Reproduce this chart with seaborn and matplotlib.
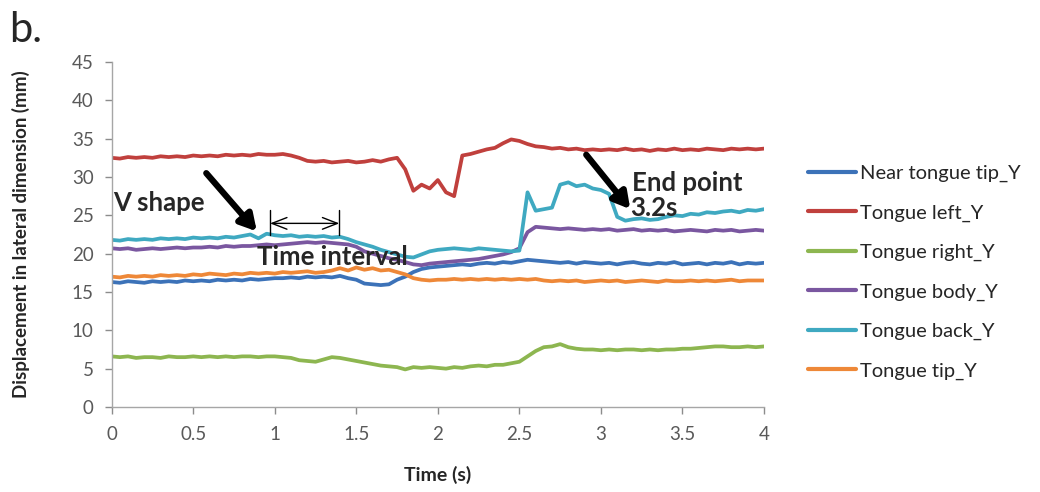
import numpy as np
import pandas as pd
import matplotlib
matplotlib.use("Agg")
import matplotlib.pyplot as plt
import seaborn as sns

# ---------------- data (0.05 s steps) ----------------
time_s = [round(i * 0.05, 2) for i in range(81)]

near_tongue_tip_y = [
    16.3, 16.2, 16.4, 16.3, 16.2, 16.4, 16.3, 16.4, 16.3, 16.5, 16.4,
    16.5, 16.4, 16.6, 16.5, 16.6, 16.5, 16.7, 16.6, 16.7, 16.8,
    16.8, 16.9, 16.8, 17.0, 16.9, 17.0, 16.9, 17.1, 16.8, 16.6,
    16.1, 16.0, 15.9, 16.0, 16.6, 17.0, 17.6, 18.0, 18.2, 18.3,
    18.4, 18.5, 18.6, 18.5, 18.7, 18.8, 18.7, 18.9, 18.8, 19.0,
    19.2, 19.1, 19.0, 18.9, 18.8, 18.9, 18.7, 18.9, 18.8, 18.7,
    18.8, 18.6, 18.8, 18.9, 18.7, 18.6, 18.8, 18.7, 18.9, 18.6,
    18.7, 18.8, 18.6, 18.8, 18.7, 18.9, 18.6, 18.8, 18.7, 18.8,
]
tongue_left_y = [
    32.5, 32.4, 32.6, 32.5, 32.6, 32.5, 32.7, 32.6, 32.7, 32.6, 32.8,
    32.7, 32.8, 32.7, 32.9, 32.8, 32.9, 32.8, 33.0, 32.9, 32.9,
    33.0, 32.8, 32.5, 32.1, 32.0, 32.1, 31.9, 32.0, 32.1, 31.9,
    32.0, 32.2, 32.0, 32.3, 32.5, 31.0, 28.2, 29.0, 28.5, 29.6,
    28.0, 27.5, 32.8, 33.0, 33.3, 33.6, 33.8, 34.4, 34.9, 34.7,
    34.3, 34.0, 33.9, 33.7, 33.8, 33.6, 33.7, 33.5, 33.6, 33.5,
    33.6, 33.5, 33.7, 33.5, 33.6, 33.4, 33.6, 33.5, 33.7, 33.5,
    33.6, 33.5, 33.7, 33.6, 33.5, 33.7, 33.6, 33.7, 33.6, 33.7,
]
tongue_right_y = [
    6.6, 6.5, 6.6, 6.4, 6.5, 6.5, 6.4, 6.6, 6.5, 6.5, 6.6,
    6.5, 6.6, 6.5, 6.6, 6.5, 6.6, 6.6, 6.5, 6.6, 6.6,
    6.5, 6.4, 6.1, 6.0, 5.9, 6.2, 6.5, 6.4, 6.2, 6.0,
    5.8, 5.6, 5.4, 5.3, 5.2, 4.9, 5.2, 5.1, 5.2, 5.1,
    5.0, 5.2, 5.1, 5.3, 5.4, 5.3, 5.5, 5.5, 5.7, 5.9,
    6.6, 7.3, 7.8, 7.9, 8.2, 7.8, 7.6, 7.5, 7.5, 7.4,
    7.5, 7.4, 7.5, 7.5, 7.4, 7.5, 7.4, 7.5, 7.5, 7.6,
    7.6, 7.7, 7.8, 7.9, 7.9, 7.8, 7.8, 7.9, 7.8, 7.9,
]
tongue_body_y = [
    20.7, 20.6, 20.7, 20.5, 20.6, 20.7, 20.6, 20.7, 20.8, 20.7, 20.8,
    20.8, 20.9, 20.8, 21.0, 20.9, 21.0, 21.0, 21.1, 21.2, 21.1,
    21.2, 21.3, 21.4, 21.5, 21.4, 21.5, 21.4, 21.3, 21.2, 20.9,
    20.3, 20.0, 19.7, 19.4, 19.2, 18.9, 18.6, 18.5, 18.7, 18.8,
    18.9, 19.0, 19.1, 19.2, 19.3, 19.5, 19.7, 19.9, 20.2, 20.7,
    22.8, 23.5, 23.4, 23.3, 23.2, 23.3, 23.2, 23.1, 23.2, 23.1,
    23.2, 23.0, 23.1, 23.2, 23.0, 23.1, 23.0, 23.1, 22.9, 23.0,
    23.1, 23.0, 22.9, 23.1, 23.0, 23.1, 22.9, 23.0, 23.1, 23.0,
]
tongue_back_y = [
    21.8, 21.7, 21.9, 21.8, 21.9, 21.8, 22.0, 21.9, 22.0, 21.9, 22.1,
    22.0, 22.1, 22.0, 22.2, 22.1, 22.3, 22.5, 22.0, 22.6, 22.4,
    22.3, 22.4, 22.2, 22.3, 22.2, 22.3, 22.1, 22.2, 21.9, 21.5,
    21.2, 20.9, 20.5, 20.2, 19.9, 19.6, 19.5, 19.9, 20.3, 20.5,
    20.6, 20.7, 20.6, 20.5, 20.7, 20.6, 20.5, 20.4, 20.3, 20.4,
    28.0, 25.6, 25.8, 26.0, 29.0, 29.3, 28.8, 29.0, 28.5, 28.3,
    27.8, 24.8, 24.3, 24.5, 24.6, 24.4, 24.5, 24.8, 25.0, 24.9,
    25.2, 25.1, 25.4, 25.3, 25.5, 25.6, 25.4, 25.7, 25.6, 25.8,
]
tongue_tip_y = [
    17.0, 16.9, 17.1, 17.0, 17.1, 17.0, 17.2, 17.1, 17.2, 17.1, 17.3,
    17.2, 17.4, 17.3, 17.2, 17.4, 17.3, 17.5, 17.4, 17.5, 17.4,
    17.6, 17.5, 17.6, 17.7, 17.5, 17.6, 17.8, 18.1, 17.8, 18.2,
    17.9, 18.1, 17.8, 17.9, 17.6, 17.3, 16.8, 16.6, 16.5, 16.6,
    16.6, 16.7, 16.6, 16.7, 16.6, 16.7, 16.6, 16.7, 16.6, 16.7,
    16.6, 16.7, 16.5, 16.4, 16.5, 16.4, 16.5, 16.3, 16.4, 16.5,
    16.4, 16.5, 16.3, 16.4, 16.5, 16.4, 16.3, 16.5, 16.4, 16.4,
    16.5, 16.4, 16.5, 16.4, 16.5, 16.6, 16.4, 16.5, 16.5, 16.5,
]

series_names = ["Near tongue tip_Y", "Tongue left_Y", "Tongue right_Y",
                "Tongue body_Y", "Tongue back_Y", "Tongue tip_Y"]
series_values = [near_tongue_tip_y, tongue_left_y, tongue_right_y,
                 tongue_body_y, tongue_back_y, tongue_tip_y]
series_colors = ["#3C72B8", "#C0403D", "#8DB650", "#7A57A0", "#3FA9C1", "#EE8838"]

x_ticks = [0, 0.5, 1, 1.5, 2, 2.5, 3, 3.5, 4]
x_tick_labels = ["0", "0.5", "1", "1.5", "2", "2.5", "3", "3.5", "4"]
y_ticks = [0, 5, 10, 15, 20, 25, 30, 35, 40, 45]

# ---------------- build long-form table ----------------
frames = []
for name, vals in zip(series_names, series_values):
    frames.append(pd.DataFrame({"Time (s)": time_s, "value": vals, "series": name}))
df = pd.concat(frames, ignore_index=True)

sns.set_theme(style="white")
plt.rcParams["font.family"] = ["Lato", "DejaVu Sans"]

fig = plt.figure(figsize=(10.4, 4.92), dpi=100)
ax = fig.add_axes([0.1074, 0.1728, 0.6272, 0.7012])

sns.lineplot(data=df, x="Time (s)", y="value", hue="series",
             hue_order=series_names, palette=dict(zip(series_names, series_colors)),
             linewidth=2.7, ax=ax, legend=True, sort=False)

ax.set_xlim(0, 4)
ax.set_ylim(0, 45)
ax.set_xticks(x_ticks)
ax.set_xticklabels(x_tick_labels)
ax.set_yticks(y_ticks)
ax.tick_params(axis="both", labelsize=13.5, colors="#8C8C8C", labelcolor="#595959",
               length=5, width=1, direction="out", bottom=True, left=True)
ax.tick_params(axis="y", pad=8)
ax.tick_params(axis="x", pad=9)
for side in ["top", "right"]:
    ax.spines[side].set_visible(False)
for side in ["left", "bottom"]:
    ax.spines[side].set_color("#A6A6A6")
    ax.spines[side].set_linewidth(1)

ax.set_xlabel("Time (s)", fontsize=14, fontweight="bold", labelpad=16)
ax.set_ylabel("Displacement in lateral dimension (mm)", fontsize=13.5,
              fontweight="bold", labelpad=30)

# legend
handles, labels = ax.get_legend_handles_labels()
ax.legend(handles, labels, loc="upper left", bbox_to_anchor=(1.055, 0.7255),
          frameon=False, fontsize=14.5, handlelength=2.4, handletextpad=0.2,
          labelspacing=1.1, borderaxespad=0)
for line in ax.get_legend().get_lines():
    line.set_linewidth(3)

# annotations
ax.text(0.01, 26.6, "V shape", fontsize=18.5, fontweight="bold", va="center", ha="left")
ax.annotate("", xy=(0.89, 22.9), xytext=(0.58, 30.5),
            arrowprops=dict(arrowstyle="-|>,head_width=0.45,head_length=0.8",
                            lw=4.5, color="black", shrinkA=0, shrinkB=0))
ax.annotate("", xy=(0.971, 23.95), xytext=(1.396, 23.95),
            arrowprops=dict(arrowstyle="<->,head_width=0.35,head_length=0.9",
                            lw=1, color="black", shrinkA=0, shrinkB=0))
ax.plot([0.971, 0.971], [22.4, 25.7], color="black", lw=1)
ax.plot([1.396, 1.396], [22.4, 25.7], color="black", lw=1)
ax.text(0.89, 19.6, "Time interval", fontsize=18.5, fontweight="bold",
        va="center", ha="left")
ax.text(3.19, 29.2, "End point", fontsize=18.5, fontweight="bold", va="center", ha="left")
ax.text(3.18, 25.9, "3.2s", fontsize=18.5, fontweight="bold", va="center", ha="left")
ax.annotate("", xy=(3.18, 25.8), xytext=(2.91, 32.9),
            arrowprops=dict(arrowstyle="-|>,head_width=0.45,head_length=0.8",
                            lw=4.5, color="black", shrinkA=0, shrinkB=0))

fig.text(0.009, 0.94, "b.", fontsize=30, va="center", ha="left")

fig.savefig("out.png", dpi=100, facecolor="white")
